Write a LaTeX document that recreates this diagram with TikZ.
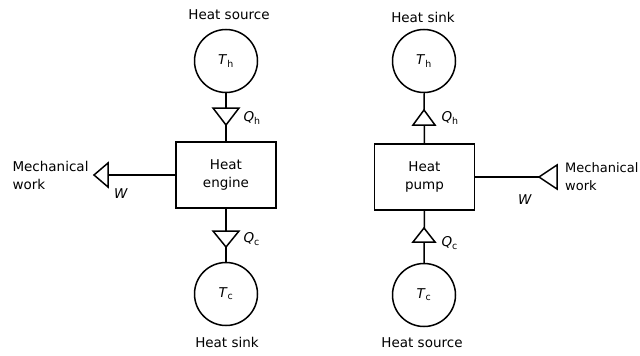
\documentclass[tikz,border=0pt]{standalone}
\usepackage{fontspec}
\setmainfont{DejaVu Sans}
% italic symbol with an upright subscript
\newcommand{\symb}[2]{\textit{#1}\textsubscript{#2}}

\begin{document}
\begin{tikzpicture}[x=1pt,y=1pt,yscale=-1,
    every node/.style={font=\fontsize{13.5}{18}\selectfont},
    reservoir/.style={draw,circle,line width=1.5pt,minimum size=63pt,inner sep=0pt},
    machine/.style={draw,rectangle,line width=1.5pt,minimum width=100pt,minimum height=66pt,align=center},
    link/.style={line width=1.5pt},
    marker/.style={draw,fill=white,line width=1.5pt,line join=miter}]
    \useasboundingbox (0,0) rectangle (640,356);

    %% heat engine
    \node[reservoir] (hotL) at (226,61) {\symb{T}{h}};
    \node[reservoir] (coldL) at (226,294) {\symb{T}{c}};
    \node[machine] (engine) at (226,175) {Heat\\engine};
    \node (srcL) at (229,15) {Heat source};
    \node (sinkL) at (227,342) {Heat sink};
    \coordinate (wL) at (108,175);

    \draw[link] (hotL) -- (engine);
    \draw[link] (engine) -- (coldL);
    \draw[link] (engine) -- (wL);

    % flow triangles
    \draw[marker] (213,108) -- (239,108) -- (226,125) -- cycle;
    \draw[marker] (213,231) -- (239,231) -- (226,247) -- cycle;
    \draw[marker] (108,163) -- (94,175) -- (108,187) -- cycle;

    \node[anchor=west] (qhL) at (240,118) {\symb{Q}{h}};
    \node[anchor=west] (qcL) at (240,239) {\symb{Q}{c}};
    \node (wlblL) at (121,194) {\textit{W}};
    \node[anchor=west,align=left] (mechL) at (9,175) {Mechanical\\work};

    %% heat pump
    \node[reservoir] (hotR) at (424,61) {\symb{T}{h}};
    \node[reservoir] (coldR) at (424,295) {\symb{T}{c}};
    \node[machine] (pump) at (424.5,177) {Heat\\pump};
    \node (sinkR) at (423,17) {Heat sink};
    \node (srcR) at (422,343) {Heat source};
    \coordinate (wR) at (539,177);

    \draw[link] (hotR) -- (pump);
    \draw[link] (pump) -- (coldR);
    \draw[link] (pump) -- (wR);

    % flow triangles
    \draw[marker] (413,125) -- (435,125) -- (424,110) -- cycle;
    \draw[marker] (413,242) -- (435,242) -- (424,228) -- cycle;
    \draw[marker] (557,165) -- (539,177) -- (557,189) -- cycle;

    \node[anchor=west] (qhR) at (438,118) {\symb{Q}{h}};
    \node[anchor=west] (qcR) at (438,243) {\symb{Q}{c}};
    \node (wlblR) at (525,200) {\textit{W}};
    \node[anchor=west,align=left,inner xsep=0pt,font=\fontsize{13}{18}\selectfont]
        (mechR) at (565,177) {Mechanical\\work};
\end{tikzpicture}
\end{document}
